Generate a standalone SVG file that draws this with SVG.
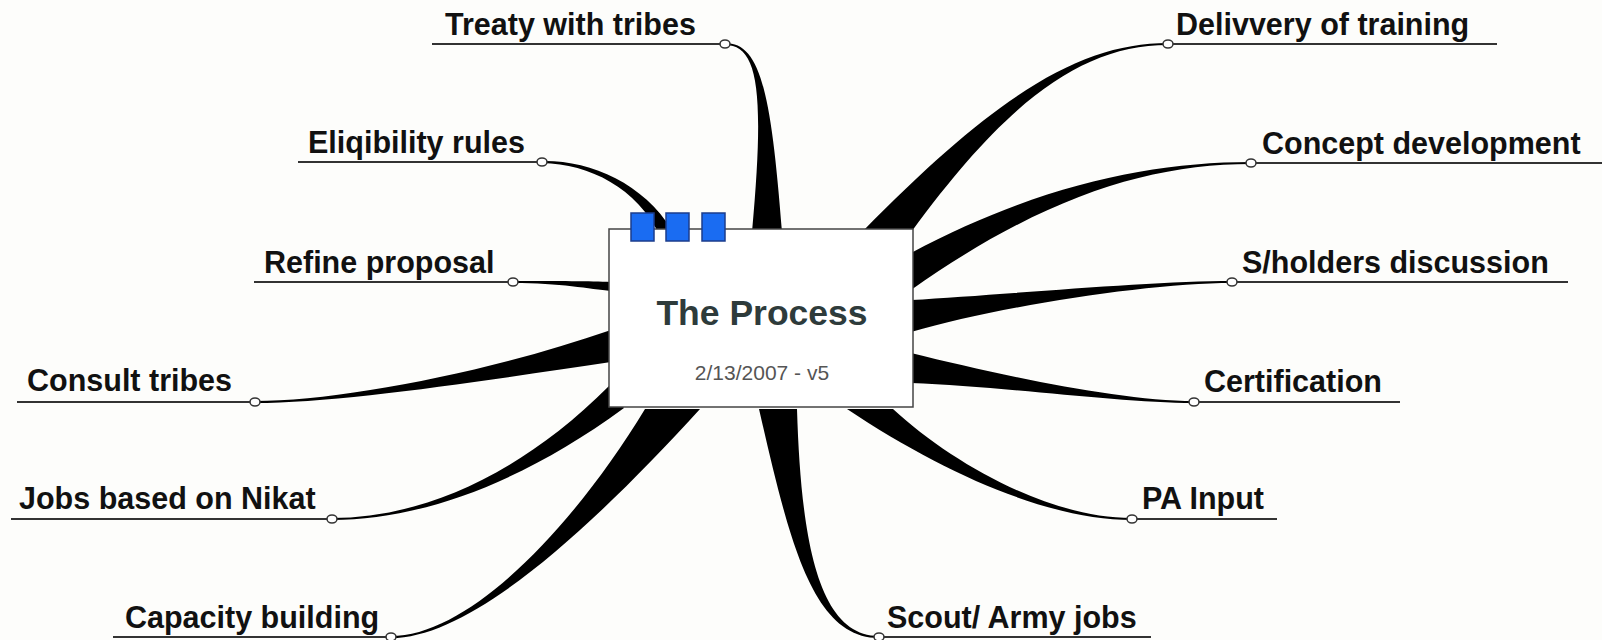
<svg xmlns="http://www.w3.org/2000/svg" width="1602" height="640" viewBox="0 0 1602 640">
<style>
.bg{fill:#fdfdfb}
.conn{fill:#000;stroke:none}
.ul{stroke:#333;stroke-width:2;fill:none}
.dot{fill:#fff;stroke:#333;stroke-width:1.5}
.lbl{font-family:"Liberation Sans",Arial,sans-serif;font-weight:bold;font-size:30.5px;fill:#111}
.title{font-family:"Liberation Sans",Arial,sans-serif;font-weight:bold;font-size:35.5px;fill:#2e3b3b}
.date{font-family:"Liberation Sans",Arial,sans-serif;font-size:21px;fill:#555}
.sq{fill:#1a6cf2;stroke:#1b3c8c;stroke-width:1.5}
.box{fill:#fff;stroke:#444;stroke-width:1.5}
</style>
<rect class="bg" x="0" y="0" width="1602" height="640"/>
<g id="connectors">
<path class="conn" d="M725,43 C760,43 771,90 782,232 L752,232 C765,90 758,45 725,45 Z"/>
<path class="conn" d="M542,161 C590,160 643,183 672,230 L660,236 C637,188 590,164 542,163 Z"/>
<path class="conn" d="M513,281 C560,281 590,281 611,282 L611,291 C590,289 560,283 513,283 Z"/>
<path class="conn" d="M255,401 C340,401 490,372 611,330 L611,362 C490,380 340,403 255,403 Z"/>
<path class="conn" d="M332,518 C420,518 518,477 609,386 L624,408 C522,483 420,520 332,520 Z"/>
<path class="conn" d="M391,636 C470,636 574,526 645,409 L700,409 C586,534 470,638 391,638 Z"/>
<path class="conn" d="M879,636 C818,636 801,540 797,409 L759,409 C789,540 812,638 879,638 Z"/>
<path class="conn" d="M1132,518 C1050,518 954,465 893,409 L847,409 C946,475 1050,520 1132,520 Z"/>
<path class="conn" d="M1194,401 C1120,401 1000,375 911,353 L911,383 C1000,386 1120,403 1194,403 Z"/>
<path class="conn" d="M1232,281 C1150,281 1000,295 911,300 L911,332 C1000,306 1150,283 1232,283 Z"/>
<path class="conn" d="M1251,162 C1150,162 1036,186 911,253 L911,290 C1044,196 1150,164 1251,164 Z"/>
<path class="conn" d="M1168,43 C1080,43 995,96 863,231 L912,231 C1005,104 1080,45 1168,45 Z"/>
</g>
<g id="node-center">
<rect class="box" x="609" y="229" width="304" height="178"/>
<rect class="sq" x="631" y="213" width="23" height="28"/>
<rect class="sq" x="666" y="213" width="23" height="28"/>
<rect class="sq" x="702" y="213" width="23" height="28"/>
<text class="title" x="762" y="325" text-anchor="middle">The Process</text>
<text class="date" x="762" y="380" text-anchor="middle">2/13/2007 - v5</text>
</g>
<g id="node-treaty">
<line class="ul" x1="432" y1="44" x2="725" y2="44"/>
<ellipse class="dot" cx="725" cy="44" rx="5" ry="4"/>
<text class="lbl" x="445" y="35">Treaty with tribes</text>
</g>
<g id="node-eligibility">
<line class="ul" x1="298" y1="162" x2="542" y2="162"/>
<ellipse class="dot" cx="542" cy="162" rx="5" ry="4"/>
<text class="lbl" x="308" y="153">Eliqibility rules</text>
</g>
<g id="node-refine">
<line class="ul" x1="254" y1="282" x2="513" y2="282"/>
<ellipse class="dot" cx="513" cy="282" rx="5" ry="4"/>
<text class="lbl" x="264" y="273">Refine proposal</text>
</g>
<g id="node-consult">
<line class="ul" x1="17" y1="402" x2="255" y2="402"/>
<ellipse class="dot" cx="255" cy="402" rx="5" ry="4"/>
<text class="lbl" x="27" y="391">Consult tribes</text>
</g>
<g id="node-jobs">
<line class="ul" x1="11" y1="519" x2="332" y2="519"/>
<ellipse class="dot" cx="332" cy="519" rx="5" ry="4"/>
<text class="lbl" x="19" y="509">Jobs based on Nikat</text>
</g>
<g id="node-capacity">
<line class="ul" x1="113" y1="637" x2="391" y2="637"/>
<ellipse class="dot" cx="391" cy="637" rx="5" ry="4"/>
<text class="lbl" x="125" y="628">Capacity building</text>
</g>
<g id="node-delivery">
<line class="ul" x1="1168" y1="44" x2="1497" y2="44"/>
<ellipse class="dot" cx="1168" cy="44" rx="5" ry="4"/>
<text class="lbl" x="1176" y="35">Delivvery of training</text>
</g>
<g id="node-concept">
<line class="ul" x1="1251" y1="163" x2="1602" y2="163"/>
<ellipse class="dot" cx="1251" cy="163" rx="5" ry="4"/>
<text class="lbl" x="1262" y="154">Concept development</text>
</g>
<g id="node-stakeholders">
<line class="ul" x1="1232" y1="282" x2="1568" y2="282"/>
<ellipse class="dot" cx="1232" cy="282" rx="5" ry="4"/>
<text class="lbl" x="1242" y="273">S/holders discussion</text>
</g>
<g id="node-certification">
<line class="ul" x1="1194" y1="402" x2="1400" y2="402"/>
<ellipse class="dot" cx="1194" cy="402" rx="5" ry="4"/>
<text class="lbl" x="1204" y="392">Certification</text>
</g>
<g id="node-pa">
<line class="ul" x1="1132" y1="519" x2="1277" y2="519"/>
<ellipse class="dot" cx="1132" cy="519" rx="5" ry="4"/>
<text class="lbl" x="1142" y="509">PA Input</text>
</g>
<g id="node-scout">
<line class="ul" x1="879" y1="637" x2="1151" y2="637"/>
<ellipse class="dot" cx="879" cy="637" rx="5" ry="4"/>
<text class="lbl" x="887" y="628">Scout/ Army jobs</text>
</g>
</svg>
